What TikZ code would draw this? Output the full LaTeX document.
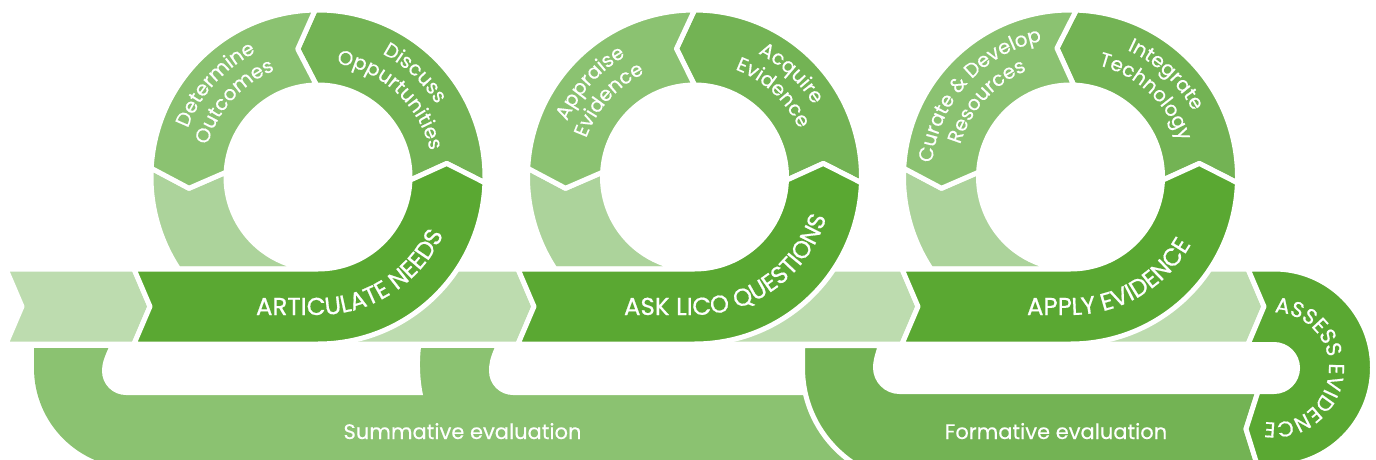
\documentclass[tikz,border=0pt]{standalone}
\usepackage{fontspec}
\setmainfont{Poppins}
\usetikzlibrary{decorations.text}
\definecolor{cDark}{HTML}{5AA832}
\definecolor{cMid}{HTML}{73B354}
\definecolor{cMidL}{HTML}{8BC271}
\definecolor{cLight}{HTML}{ACD39B}
\definecolor{cBand}{HTML}{BDDCAF}
\newfontfamily\poppinsmed{Poppins}[FakeBold=0.6]
\newfontfamily\poppinsring{Poppins}[FakeBold=0.3]
\newcommand{\bandfont}{\poppinsmed\fontsize{24.5}{24.5}\selectfont}
\newcommand{\ringfont}{\poppinsring\fontsize{20}{20}\selectfont}
\newcommand{\evalfont}{\poppinsring\fontsize{21}{21}\selectfont}
\newcommand{\assessfont}{\poppinsmed\fontsize{21.5}{21.5}\selectfont}
\tikzset{
  seg/.style={draw=white, line width=5pt, line join=round},
  arctext/.style={decorate, decoration={text along path, text color=white, text align=center, text={#1}}},
  bandtext/.style={decorate, decoration={text along path, text color=white, text align=left, text={#1}}},
}
\newcommand{\myring}[3]{%
\begin{scope}[shift={(#1,282)}]
\path[fill=cLight,seg] (177:167) arc[start angle=177,end angle=213.4,radius=167] -- (0,-92) arc[start angle=270,end angle=177,radius=92] -- (185:129.5) -- cycle;
\path[fill=cMid,seg] (-2:167) arc[start angle=-2,end angle=#2,radius=167] -- ({#2+8}:129.5) -- (#2:92) arc[start angle=#2,end angle=-2,radius=92] -- (6:129.5) -- cycle;
\path[fill=cMidL,seg] (#2:167) arc[start angle=#2,end angle=177,radius=167] -- (185:129.5) -- (177:92) arc[start angle=177,end angle=#2,radius=92] -- ({#2+8}:129.5) -- cycle;
\path[fill=cDark,seg] (#3,-92) -- (0,-92) arc[start angle=270,end angle=358,radius=92] -- (6:129.5) -- (358:167) arc[start angle=358,end angle=270,radius=167] -- (#3,-167) -- ({#3+16},-129.5) -- cycle;
\end{scope}}
\begin{document}
\begin{tikzpicture}[x=1pt,y=1pt]
\useasboundingbox (0,0) rectangle (1376,459);
\clip (0,0) rectangle (1376,459);
% summative evaluation loop
\path[fill=cMidL] (34,111) -- (34,91) arc[start angle=180,end angle=270,radius=100] -- (960,-9) -- (960,64) -- (830,64) -- (830,111) -- cycle;
\path[fill=white] (109,112) .. controls (104,101) and (102,95) .. (102,88) arc[start angle=180,end angle=270,radius=24] -- (423,64) .. controls (420,78) and (419,96) .. (421,112) -- cycle;
\path[fill=white] (495,112) .. controls (490,101) and (489,95) .. (489,88) arc[start angle=180,end angle=270,radius=24] -- (831,64) -- (831,112) -- cycle;
% formative evaluation loop
\path[fill=cMid,seg] (802.5,113.5) -- (802.5,91) arc[start angle=180,end angle=270,radius=114.5] -- (1263,-23.5) -- (1246,30) -- (1258,67.5) -- (899.5,67.5) arc[start angle=270,end angle=180,radius=24] .. controls (875.5,97) and (877,103) .. (880.5,113.5) -- cycle;
% light band pieces
\path[fill=cBand,seg] (6,190) -- (134,190) -- (150,152.5) -- (134,115) -- (6,115) -- (22,152.5) -- cycle;
\path[fill=cBand,seg] (300,190) -- (518,190) -- (534,152.5) -- (518,115) -- (300,115) -- cycle;
\path[fill=cBand,seg] (680,190) -- (902,190) -- (918,152.5) -- (902,115) -- (680,115) -- cycle;
\path[fill=cBand,seg] (1060,190) -- (1248,190) -- (1264,152.5) -- (1248,115) -- (1060,115) -- cycle;
% rings
\myring{318}{91}{-184}
\myring{694.5}{90}{-176.5}
\myring{1070.5}{88}{-168.5}
% assess evidence
\path[fill=cDark,seg] (1248,190) -- (1274,190) arc[start angle=90,end angle=-90,radius=98.5] -- (1257.5,-7) -- (1246,30) -- (1258,67.5) -- (1274,67.5) arc[start angle=-90,end angle=90,radius=23.5] -- (1248,114.5) -- (1264,152.5) -- cycle;
% texts ring 1
\begin{scope}[shift={(318,282)}]
\path[arctext={|\ringfont|Determine}] (198:139) arc[start angle=198,end angle=78,radius=139];
\path[arctext={|\ringfont|Outcomes}] (198:115) arc[start angle=198,end angle=78,radius=115];
\path[arctext={|\ringfont|Discuss}] (107:139) arc[start angle=107,end angle=-13,radius=139];
\path[arctext={|\ringfont|Oppurtunities}] (107:115) arc[start angle=107,end angle=-13,radius=115];
\path[bandtext={|\bandfont|ARTICULATE NEEDS}] (-62,-138) -- (0,-138) arc[start angle=270,end angle=420,radius=138];
\end{scope}
\begin{scope}[shift={(694.5,282)}]
\path[arctext={|\ringfont|Appraise}] (198:139) arc[start angle=198,end angle=78,radius=139];
\path[arctext={|\ringfont|Evidence}] (198:115) arc[start angle=198,end angle=78,radius=115];
\path[arctext={|\ringfont|Acquire}] (107:139) arc[start angle=107,end angle=-13,radius=139];
\path[arctext={|\ringfont|Evidence}] (107:115) arc[start angle=107,end angle=-13,radius=115];
\path[bandtext={|\bandfont|ASK LICO QUESTIONS}] (-70.5,-138) -- (0,-138) arc[start angle=270,end angle=420,radius=138];
\end{scope}
\begin{scope}[shift={(1070.5,282)}]
\path[arctext={|\ringfont|Curate {\&} Develop}] (198:139) arc[start angle=198,end angle=78,radius=139];
\path[arctext={|\ringfont|Resources}] (198:115) arc[start angle=198,end angle=78,radius=115];
\path[arctext={|\ringfont|Integrate}] (107:139) arc[start angle=107,end angle=-13,radius=139];
\path[arctext={|\ringfont|Technology}] (107:115) arc[start angle=107,end angle=-13,radius=115];
\path[bandtext={|\bandfont|APPLY EVIDENCE}] (-43.5,-138) -- (0,-138) arc[start angle=270,end angle=420,radius=138];
\end{scope}
\begin{scope}[shift={(1274,91.5)}]
\path[arctext={|\assessfont|ASSESS EVIDENCE}] (150:55) arc[start angle=150,end angle=-160,radius=55];
\end{scope}
\node[text=white, anchor=base, inner sep=0pt] (summ) at (462.5,20) {\evalfont Summative evaluation};
\node[text=white, anchor=base, inner sep=0pt] (form) at (1056,20) {\evalfont Formative evaluation};
\end{tikzpicture}
\end{document}
